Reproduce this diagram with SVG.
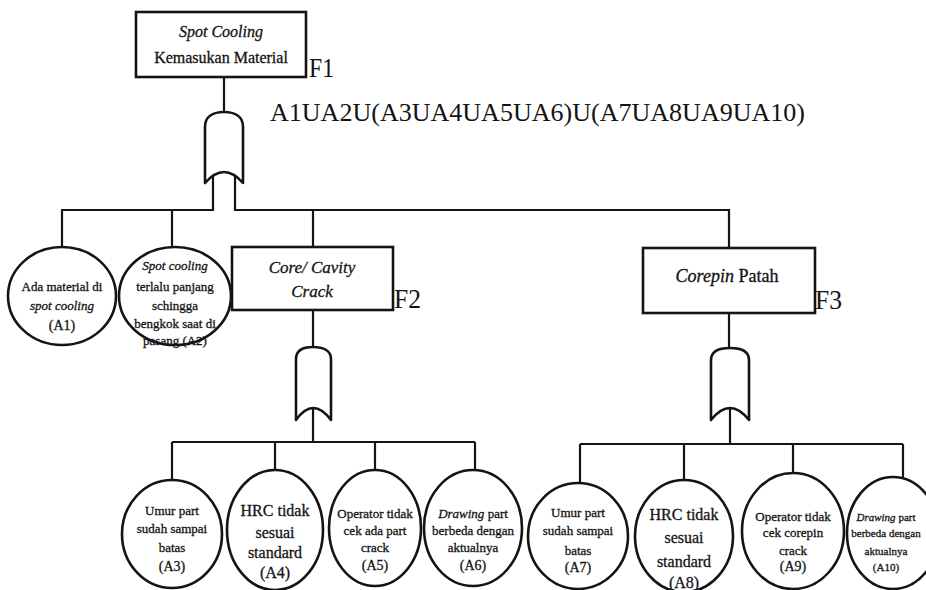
<svg xmlns="http://www.w3.org/2000/svg" width="926" height="590" viewBox="0 0 926 590">
  <style>
    text { font-family: "Liberation Serif", "Times New Roman", "DejaVu Serif", serif; fill: #141414; stroke: #141414; stroke-width: 0.3; text-anchor: middle; }
    .box { fill: #ffffff; stroke: #141414; stroke-width: 2.6; }
    .ev { fill: #ffffff; stroke: #141414; stroke-width: 2.6; }
    .gate { fill: #ffffff; stroke: #141414; stroke-width: 2.6; stroke-linejoin: round; }
    .wire { fill: none; stroke: #141414; stroke-width: 2.2; }
    .lbl { font-size: 28px; text-anchor: start; stroke-width: 0; }
    .it { font-style: italic; }
    .s11 { font-size: 11px; }
    .s13 { font-size: 13px; }
    .s14 { font-size: 14px; }
    .s16 { font-size: 16px; }
    .s17 { font-size: 17px; }
    .s18 { font-size: 18px; }
  </style>
  <rect width="926" height="590" fill="#ffffff"/>

  <!-- connectors -->
  <g id="connectors" class="wire">
    <!-- F1 to top gate -->
    <line x1="224" y1="77" x2="224" y2="112"/>
    <!-- top gate legs and main bus -->
    <polyline points="213,176 213,210 62,210 62,247"/>
    <polyline points="235,176 235,210 729,210 729,248"/>
    <line x1="172" y1="210" x2="172" y2="247"/>
    <line x1="313" y1="210" x2="313" y2="247"/>
    <!-- F2 to its gate and children -->
    <line x1="313" y1="310" x2="313" y2="347"/>
    <line x1="313" y1="408" x2="313" y2="442"/>
    <line x1="172" y1="442" x2="475" y2="442"/>
    <line x1="172" y1="442" x2="172" y2="480"/>
    <line x1="275" y1="442" x2="275" y2="470"/>
    <line x1="375" y1="442" x2="375" y2="470"/>
    <line x1="475" y1="442" x2="475" y2="470"/>
    <!-- F3 to its gate and children -->
    <line x1="729" y1="313" x2="729" y2="348"/>
    <line x1="730" y1="408" x2="730" y2="444"/>
    <line x1="580" y1="444" x2="903" y2="444"/>
    <line x1="580" y1="444" x2="580" y2="483"/>
    <line x1="684" y1="444" x2="684" y2="480"/>
    <line x1="793" y1="444" x2="793" y2="473"/>
    <line x1="903" y1="444" x2="903" y2="478"/>
  </g>

  <!-- OR gates -->
  <g id="gate-f1">
    <path class="gate" d="M205,183 L205,127 C205,116 214,112 224,112 C234,112 243,116 243,127 L243,183 Q224,161 205,183 Z"/>
  </g>
  <g id="gate-f2">
    <path class="gate" d="M296,420 L296,359 C296,350 304,347 313,347 C322,347 331,350 331,359 L331,420 Q313,396 296,420 Z"/>
  </g>
  <g id="gate-f3">
    <path class="gate" d="M711,420 L711,360 C711,351 720,348 730,348 C740,348 749,351 749,360 L749,420 Q730,396 711,420 Z"/>
  </g>

  <!-- top event -->
  <g id="F1">
    <rect class="box" x="136" y="12" width="170" height="65"/>
    <text class="s16 it" x="221" y="37">Spot Cooling</text>
    <text class="s16" x="221" y="63">Kemasukan Material</text>
    <text class="lbl" x="309" y="77" textLength="25" lengthAdjust="spacingAndGlyphs">F1</text>
  </g>

  <g id="formula">
    <text x="270" y="121" style="font-size:26px;text-anchor:start;stroke-width:0" textLength="535" lengthAdjust="spacingAndGlyphs">A1UA2U(A3UA4UA5UA6)U(A7UA8UA9UA10)</text>
  </g>

  <!-- intermediate events -->
  <g id="F2">
    <rect class="box" x="232" y="247" width="161" height="63"/>
    <text class="s17 it" x="312" y="273">Core/ Cavity</text>
    <text class="s17 it" x="312" y="297">Crack</text>
    <text class="lbl" x="394" y="308" textLength="27" lengthAdjust="spacingAndGlyphs">F2</text>
  </g>
  <g id="F3">
    <rect class="box" x="643" y="248" width="172" height="65"/>
    <text class="s18" x="727" y="282"><tspan class="it">Corepin</tspan> Patah</text>
    <text class="lbl" x="815" y="309" textLength="27" lengthAdjust="spacingAndGlyphs">F3</text>
  </g>

  <!-- basic events under F1 -->
  <g id="A1">
    <ellipse class="ev" cx="62" cy="296" rx="54" ry="49"/>
    <text class="s13" x="62" y="291">Ada material di</text>
    <text class="s13 it" x="62" y="310">spot cooling</text>
    <text class="s14" x="62" y="330">(A1)</text>
  </g>
  <g id="A2">
    <ellipse class="ev" cx="175" cy="296" rx="56" ry="49"/>
    <text class="s13 it" x="175" y="270">Spot cooling</text>
    <text class="s13" x="175" y="291">terlalu panjang</text>
    <text class="s13" x="175" y="310">schingga</text>
    <text class="s13" x="175" y="328">bengkok saat di</text>
    <text class="s13" x="175" y="345">pasang (A2)</text>
  </g>

  <!-- basic events under F2 -->
  <g id="A3">
    <ellipse class="ev" cx="172" cy="534" rx="50" ry="54"/>
    <text class="s13" x="172" y="515">Umur part</text>
    <text class="s13" x="172" y="533">sudah sampai</text>
    <text class="s13" x="172" y="552">batas</text>
    <text class="s14" x="172" y="571">(A3)</text>
  </g>
  <g id="A4">
    <ellipse class="ev" cx="275" cy="530" rx="48" ry="60"/>
    <text class="s16" x="275" y="516">HRC tidak</text>
    <text class="s16" x="275" y="538">sesuai</text>
    <text class="s16" x="275" y="558">standard</text>
    <text class="s16" x="275" y="578">(A4)</text>
  </g>
  <g id="A5">
    <ellipse class="ev" cx="375" cy="528" rx="46" ry="58"/>
    <text class="s13" x="375" y="518">Operator tidak</text>
    <text class="s13" x="375" y="535">cek ada part</text>
    <text class="s13" x="375" y="552">crack</text>
    <text class="s14" x="375" y="570">(A5)</text>
  </g>
  <g id="A6">
    <ellipse class="ev" cx="473" cy="528" rx="49" ry="58"/>
    <text class="s13" x="473" y="518"><tspan class="it">Drawing</tspan> part</text>
    <text class="s13" x="473" y="535">berbeda dengan</text>
    <text class="s13" x="473" y="552">aktualnya</text>
    <text class="s14" x="473" y="570">(A6)</text>
  </g>

  <!-- basic events under F3 -->
  <g id="A7">
    <ellipse class="ev" cx="578" cy="536" rx="50" ry="53"/>
    <text class="s13" x="578" y="517">Umur part</text>
    <text class="s13" x="578" y="535">sudah sampai</text>
    <text class="s13" x="578" y="555">batas</text>
    <text class="s14" x="578" y="572">(A7)</text>
  </g>
  <g id="A8">
    <ellipse class="ev" cx="684" cy="536" rx="49" ry="56"/>
    <text class="s16" x="684" y="520">HRC tidak</text>
    <text class="s16" x="684" y="543">sesuai</text>
    <text class="s16" x="684" y="567">standard</text>
    <text class="s16" x="684" y="588">(A8)</text>
  </g>
  <g id="A9">
    <ellipse class="ev" cx="793" cy="531" rx="51" ry="58"/>
    <text class="s13" x="793" y="521">Operator tidak</text>
    <text class="s13" x="793" y="537">cek corepin</text>
    <text class="s13" x="793" y="555">crack</text>
    <text class="s14" x="793" y="571">(A9)</text>
  </g>
  <g id="A10">
    <ellipse class="ev" cx="893" cy="533" rx="46" ry="56"/>
    <text class="s11" x="886" y="521"><tspan class="it">Drawing</tspan> part</text>
    <text class="s11" x="886" y="537">berbeda dengan</text>
    <text class="s11" x="886" y="555">aktualnya</text>
    <text class="s11" x="886" y="571">(A10)</text>
  </g>
</svg>
